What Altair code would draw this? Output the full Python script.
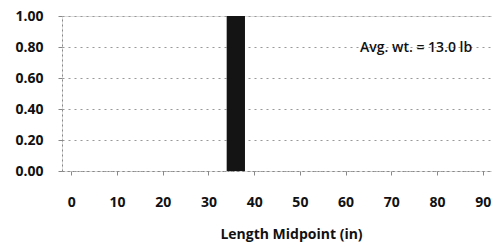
import altair as alt
import pandas as pd

# Data
length_midpoints = [36]
bar_lefts = [34]
bar_rights = [38]
proportions = [1.0]
x_ticks = [0, 10, 20, 30, 40, 50, 60, 70, 80, 90]
y_ticks = [0.0, 0.2, 0.4, 0.6, 0.8, 1.0]
annotation = "Avg. wt.  = 13.0 lb"

df = pd.DataFrame({"mid": length_midpoints, "lo": bar_lefts, "hi": bar_rights, "p": proportions})

FONT = "Open Sans"

bars = alt.Chart(df).mark_rect(color="#141414").encode(
    x=alt.X("lo:Q",
            scale=alt.Scale(domain=[-2, 92], nice=False, zero=False),
            axis=alt.Axis(values=x_ticks, title="Length Midpoint (in)", grid=False,
                          labelFont=FONT, labelFontWeight="bold", labelFontSize=14,
                          labelColor="#111", labelPadding=20, tickSize=4,
                          tickColor="#888", domainColor="#888", domainDash=[2, 3],
                          titleFont=FONT, titleFontWeight="bold", titleFontSize=14,
                          titleColor="#111", titleX=229, titleY=56)),
    x2="hi:Q",
    y=alt.Y("p:Q",
            scale=alt.Scale(domain=[0, 1], nice=False),
            axis=alt.Axis(values=y_ticks, format=".2f", title=None,
                          labelFont=FONT, labelFontWeight="bold", labelFontSize=14,
                          labelColor="#111", labelPadding=15, tickSize=4,
                          tickColor="#888", domainColor="#888", domainDash=[2, 3],
                          grid=True, gridColor="#999", gridDash=[2, 4], gridWidth=1)),
    y2=alt.datum(0),
)

text = alt.Chart(pd.DataFrame({"t": [annotation]})).mark_text(
    align="left", baseline="middle", font=FONT, fontSize=14, fontWeight=600, color="#111"
).encode(text="t:N", x=alt.value(298), y=alt.value(32))

chart = (bars + text).properties(
    width=430, height=155,
    autosize=alt.AutoSizeParams(type="none"),
    padding={"left": 54, "top": 8, "right": 0, "bottom": 73},
).configure_view(stroke=None).configure(background="white")

chart.save("out.html", embed_options={"renderer": "svg", "actions": False})
